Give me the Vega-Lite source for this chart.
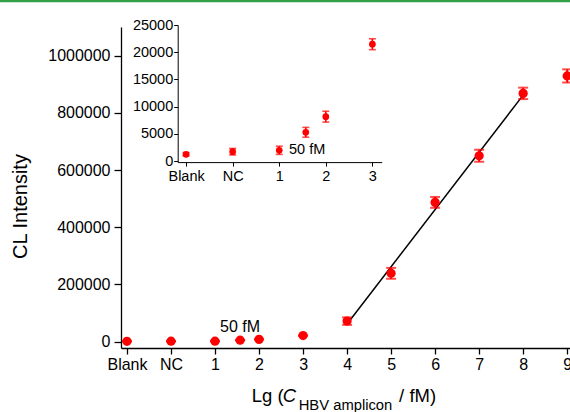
{
  "$schema": "https://vega.github.io/schema/vega-lite/v6.json",
  "width": 459.4,
  "height": 321,
  "autosize": "none",
  "padding": {"left": 121, "top": 27, "right": 0, "bottom": 64},
  "background": "white",
  "config": {
    "font": "Liberation Sans",
    "view": {"stroke": null},
    "axis": {"grid": false, "domainColor": "black", "tickColor": "black", "labelColor": "black", "titleColor": "black", "domainWidth": 1.3, "tickWidth": 1.3, "labelFont": "Liberation Sans", "titleFont": "Liberation Sans", "titleFontWeight": "normal"},
    "text": {"font": "Liberation Sans", "color": "black"}
  },
  "datasets": {
    "pts": [
      {"x": -1, "y": 1230, "lo": 930, "hi": 1530},
      {"x": 0, "y": 1710, "lo": 1110, "hi": 2310},
      {"x": 1, "y": 1970, "lo": 1220, "hi": 2720},
      {"x": 1.57, "y": 5280, "lo": 4380, "hi": 6180},
      {"x": 2, "y": 8150, "lo": 7150, "hi": 9150},
      {"x": 3, "y": 21470, "lo": 20470, "hi": 22470},
      {"x": 4, "y": 72000, "lo": 59000, "hi": 85000},
      {"x": 5, "y": 239000, "lo": 220000, "hi": 258000},
      {"x": 6, "y": 487000, "lo": 468000, "hi": 506000},
      {"x": 7, "y": 650000, "lo": 629000, "hi": 671000},
      {"x": 8, "y": 868000, "lo": 848000, "hi": 888000},
      {"x": 9, "y": 929000, "lo": 906000, "hi": 952000}
    ],
    "fit": [
      {"x": 4, "y": 62000},
      {"x": 8, "y": 862000}
    ],
    "one": [{}]
  },
  "layer": [
    {
      "layer": [
        {
          "data": {"name": "one"},
          "mark": {"type": "rule", "color": "#33a047", "strokeWidth": 2.5},
          "encoding": {
            "x": {"datum": -5, "type": "quantitative"},
            "x2": {"datum": 15},
            "y": {"datum": 1191000, "type": "quantitative"}
          }
        },
        {
          "data": {"name": "fit"},
          "mark": {"type": "line", "color": "black", "strokeWidth": 1.5},
          "encoding": {
            "x": {"field": "x", "type": "quantitative",
              "scale": {"domain": [-1.136, 9.3], "nice": false, "zero": false},
              "axis": {
                "orient": "bottom",
                "values": [-1, 0, 1, 2, 3, 4, 5, 6, 7, 8, 9],
                "format": "d",
                "labelExpr": "datum.value == -1 ? 'Blank' : datum.value == 0 ? 'NC' : datum.label",
                "title": null,
                "tickSize": 6,
                "labelPadding": 3,
                "labelFontSize": 16
              }
            },
            "y": {"field": "y", "type": "quantitative", "title": "CL Intensity",
              "scale": {"domain": [-22000, 1100000], "nice": false, "zero": false},
              "axis": {
                "orient": "left",
                "values": [0, 100000, 200000, 300000, 400000, 500000, 600000, 700000, 800000, 900000, 1000000],
                "format": "d",
                "labelExpr": "datum.value % 200000 == 0 ? datum.label : ''",
                "tickSize": {"condition": {"test": "datum.value % 200000 != 0", "value": 4}, "value": 7},
                "labelPadding": 4,
                "labelFontSize": 16,
                "titleFontSize": 20,
                "titleBaseline": "alphabetic",
                "titleAngle": -90,
                "titleX": -94,
                "titleY": 179
              }
            }
          }
        },
        {
          "data": {"name": "pts"},
          "mark": {"type": "errorbar", "color": "red", "ticks": {"size": 10, "thickness": 2}, "rule": {"strokeWidth": 2}},
          "encoding": {
            "x": {"field": "x", "type": "quantitative", "title": null},
            "y": {"field": "lo", "type": "quantitative", "title": "CL Intensity"},
            "y2": {"field": "hi"}
          }
        },
        {
          "data": {"name": "pts"},
          "mark": {"type": "circle", "color": "red", "size": 85, "opacity": 1},
          "encoding": {
            "x": {"field": "x", "type": "quantitative", "title": null},
            "y": {"field": "y", "type": "quantitative", "title": "CL Intensity"}
          }
        },
        {
          "data": {"name": "one"},
          "mark": {"type": "text", "text": "50 fM", "align": "left", "baseline": "alphabetic", "fontSize": 16},
          "encoding": {
            "x": {"datum": 1.114, "type": "quantitative"},
            "y": {"datum": 35000, "type": "quantitative"}
          }
        },
        {
          "data": {"name": "one"},
          "mark": {"type": "text", "text": "Lg (", "align": "left", "baseline": "alphabetic", "fontSize": 18.5, "dy": 53.7},
          "encoding": {
            "x": {"datum": 1.834, "type": "quantitative"},
            "y": {"datum": -22000, "type": "quantitative"}
          }
        },
        {
          "data": {"name": "one"},
          "mark": {"type": "text", "text": "C", "align": "left", "baseline": "alphabetic", "fontSize": 18.5, "fontStyle": "italic", "dy": 53.7},
          "encoding": {
            "x": {"datum": 2.54, "type": "quantitative"},
            "y": {"datum": -22000, "type": "quantitative"}
          }
        },
        {
          "data": {"name": "one"},
          "mark": {"type": "text", "text": "HBV amplicon", "align": "left", "baseline": "alphabetic", "fontSize": 14.8, "dy": 62},
          "encoding": {
            "x": {"datum": 2.9, "type": "quantitative"},
            "y": {"datum": -22000, "type": "quantitative"}
          }
        },
        {
          "data": {"name": "one"},
          "mark": {"type": "text", "text": "/ fM)", "align": "left", "baseline": "alphabetic", "fontSize": 18.5, "dy": 53.7},
          "encoding": {
            "x": {"datum": 5.182, "type": "quantitative"},
            "y": {"datum": -22000, "type": "quantitative"}
          }
        }
      ]
    },
    {
      "layer": [
        {
          "data": {"name": "pts"},
          "transform": [{"filter": "datum.x <= 3"}],
          "mark": {"type": "errorbar", "color": "red", "ticks": {"size": 7, "thickness": 1.6}, "rule": {"strokeWidth": 1.6}},
          "encoding": {
            "x": {"field": "x", "type": "quantitative", "title": null,
              "scale": {"domain": [-1.18, 3.2], "range": [56.7, 260.7], "nice": false, "zero": false},
              "axis": {
                "orient": "bottom",
                "offset": -185.9,
                "values": [-1, 0, 1, 2, 3],
                "format": "d",
                "labelExpr": "datum.value == -1 ? 'Blank' : datum.value == 0 ? 'NC' : datum.label",
                "tickSize": 4,
                "labelPadding": 3,
                "labelFontSize": 14.5,
                "domainWidth": 1,
                "tickWidth": 1
              }
            },
            "y": {"field": "lo", "type": "quantitative", "title": null,
              "scale": {"domain": [-200, 25000], "range": [135.1, -2], "nice": false, "zero": false},
              "axis": {
                "orient": "left",
                "offset": -56.7,
                "values": [0, 2500, 5000, 7500, 10000, 12500, 15000, 17500, 20000, 22500, 25000],
                "format": "d",
                "labelExpr": "datum.value % 5000 == 0 ? datum.label : ''",
                "tickSize": {"condition": {"test": "datum.value % 5000 != 0", "value": 2}, "value": 4},
                "labelPadding": 1,
                "labelFontSize": 14.5,
                "domainWidth": 1,
                "tickWidth": 1
              }
            },
            "y2": {"field": "hi"}
          }
        },
        {
          "data": {"name": "pts"},
          "transform": [{"filter": "datum.x <= 3"}],
          "mark": {"type": "circle", "color": "red", "size": 45, "opacity": 1},
          "encoding": {
            "x": {"field": "x", "type": "quantitative", "title": null},
            "y": {"field": "y", "type": "quantitative", "title": null}
          }
        },
        {
          "data": {"name": "one"},
          "mark": {"type": "text", "text": "50 fM", "align": "left", "baseline": "alphabetic", "fontSize": 14.5},
          "encoding": {
            "x": {"datum": 1.21, "type": "quantitative"},
            "y": {"datum": 1230, "type": "quantitative"}
          }
        }
      ]
    }
  ],
  "resolve": {"scale": {"x": "independent", "y": "independent"}}
}
